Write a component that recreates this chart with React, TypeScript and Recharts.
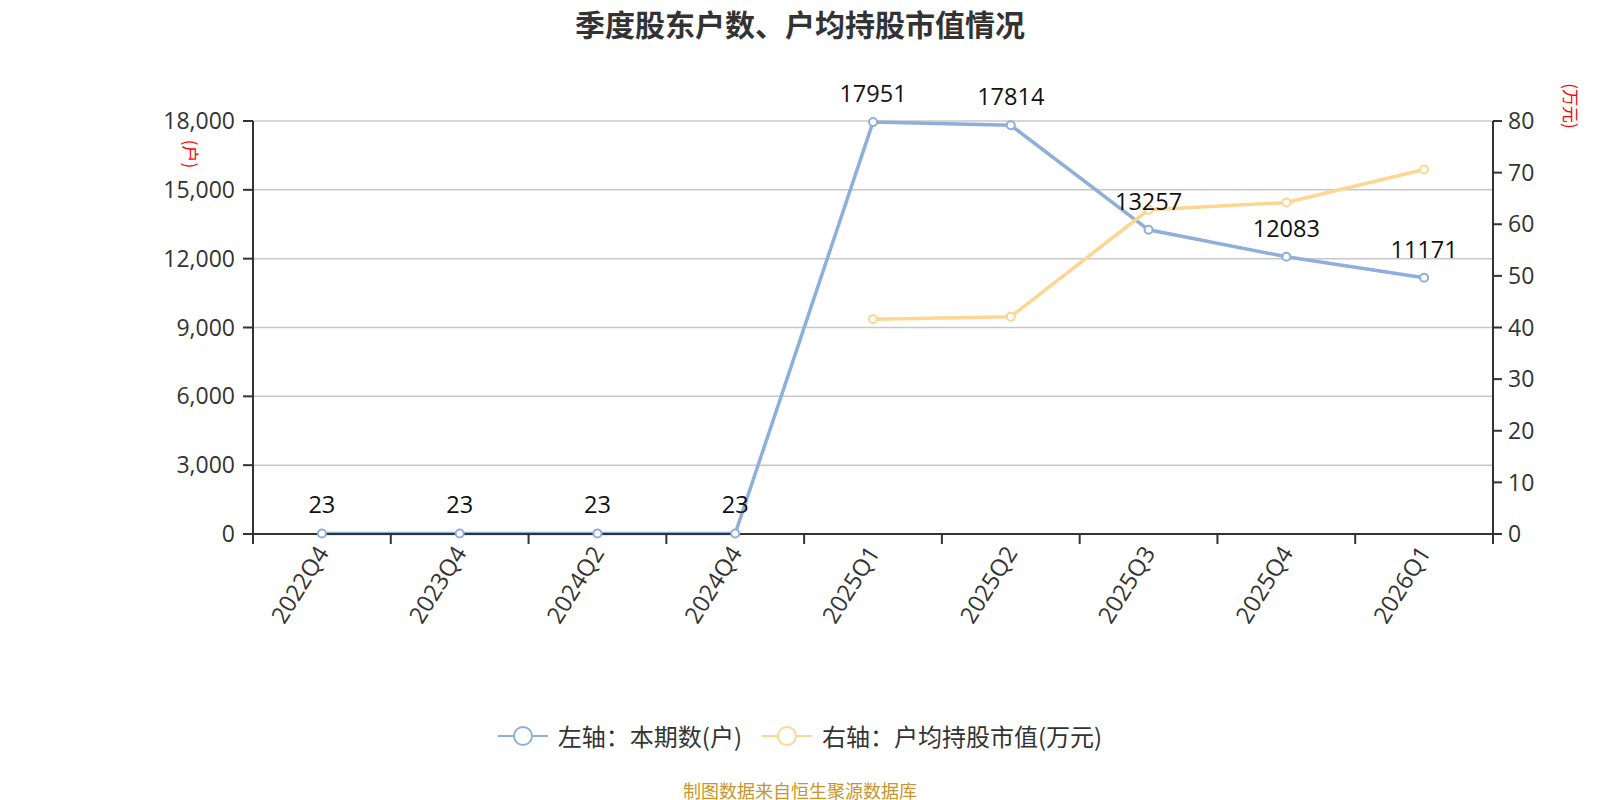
import React from 'react';
import { LineChart, Line, XAxis, YAxis, CartesianGrid, Legend, LabelList } from 'recharts';

const categories = ['2022Q4', '2023Q4', '2024Q2', '2024Q4', '2025Q1', '2025Q2', '2025Q3', '2025Q4', '2026Q1'];
const holders = [23, 23, 23, 23, 17951, 17814, 13257, 12083, 11171];
const avgValue: (number | null)[] = [null, null, null, null, 41.6, 42.1, 62.8, 64.2, 70.6];
const leftTicks = [0, 3000, 6000, 9000, 12000, 15000, 18000];
const rightTicks = [0, 10, 20, 30, 40, 50, 60, 70, 80];

const data = categories.map((c, i) => ({ name: c, holders: holders[i], avg: avgValue[i] }));

const BLUE = '#8eafdc';
const ORANGE = '#fdd692';
const FONT = '"Open Sans", "Noto Sans CJK SC", sans-serif';
const CJK = '"Noto Sans CJK SC", sans-serif';
const AXIS = '#333';
const CHART_W = 1600;
const CHART_H = 800;
const MARGIN = { top: 121, right: 37, left: 183, bottom: 166 };
const YW = 70;
const BAND = (CHART_W - MARGIN.left - MARGIN.right - 2 * YW) / categories.length;

const fmt = (v: number) => v.toLocaleString('en-US');

const XTick = (props: any) => {
  const { x, y, payload, index } = props;
  const half = payload && typeof payload.offset === 'number' && payload.offset > 0 ? payload.offset : BAND / 2;
  const ty = y + 14;
  return (
    <g>
      <line x1={x - half} y1={y} x2={x - half} y2={y + 10} stroke={AXIS} strokeWidth={2} />
      {index === categories.length - 1 && (
        <line x1={x + half} y1={y} x2={x + half} y2={y + 10} stroke={AXIS} strokeWidth={2} />
      )}
      <text
        x={x}
        y={ty}
        transform={`rotate(-58, ${x}, ${ty})`}
        textAnchor="end"
        dominantBaseline="central"
        fontSize={23.5}
        fill="#333"
        fontFamily={FONT}
      >
        {payload.value}
      </text>
    </g>
  );
};

const LeftName = (props: any) => {
  const vb = props.viewBox || {};
  const cx = vb.x + vb.width - 62;
  const cy = vb.y + 33;
  return (
    <text x={cx} y={cy} transform={`rotate(90, ${cx}, ${cy})`} textAnchor="middle" dominantBaseline="central" fontSize={17} fill="#ff0000" fontFamily={CJK}>
      (户)
    </text>
  );
};

const RightName = (props: any) => {
  const vb = props.viewBox || {};
  const cx = vb.x + 78;
  const cy = vb.y - 15;
  return (
    <text x={cx} y={cy} transform={`rotate(90, ${cx}, ${cy})`} textAnchor="middle" dominantBaseline="central" fontSize={17} fill="#ff0000" fontFamily={CJK}>
      (万元)
    </text>
  );
};

const legendItems = [
  { label: '左轴：本期数(户)', color: BLUE },
  { label: '右轴：户均持股市值(万元)', color: ORANGE },
];

const LegendContent = () => (
  <div style={{ display: 'flex', justifyContent: 'center', alignItems: 'center', fontFamily: CJK, fontSize: 24, color: '#333' }}>
    {legendItems.map((it, i) => (
      <div key={i} style={{ display: 'flex', alignItems: 'center', marginLeft: i === 0 ? 0 : 20 }}>
        <svg width={50} height={24} style={{ marginRight: 10 }}>
          <line x1={0} y1={12} x2={50} y2={12} stroke={it.color} strokeWidth={2} />
          <circle cx={25} cy={12} r={9} fill="#fff" stroke={it.color} strokeWidth={2} />
        </svg>
        <span>{it.label}</span>
      </div>
    ))}
  </div>
);

export default function App() {
  return (
    <div style={{ position: 'absolute', left: 0, top: 0, width: CHART_W, height: CHART_H, background: '#fff', fontFamily: CJK }}>
      <div style={{ position: 'absolute', left: 0, top: 3, width: CHART_W, textAlign: 'center', fontSize: 30, fontWeight: 'bold', color: '#333', lineHeight: '40px' }}>
        季度股东户数、户均持股市值情况
      </div>
      <LineChart width={CHART_W} height={CHART_H} data={data} margin={MARGIN}>
        <CartesianGrid vertical={false} stroke="#c8c8c8" strokeWidth={1.5} yAxisId="left" />
        <XAxis
          dataKey="name"
          scale="band"
          height={100}
          interval={0}
          tickLine={false}
          tickSize={0}
          tickMargin={0}
          axisLine={{ stroke: AXIS, strokeWidth: 2 }}
          tick={<XTick />}
        />
        <YAxis
          yAxisId="left"
          width={YW}
          domain={[0, 18000]}
          ticks={leftTicks}
          tickFormatter={fmt}
          tickSize={10}
          tickMargin={8}
          tickLine={{ stroke: AXIS, strokeWidth: 2 }}
          axisLine={{ stroke: AXIS, strokeWidth: 2 }}
          tick={{ fontSize: 23, fill: '#333', fontFamily: FONT }}
          label={<LeftName />}
        />
        <YAxis
          yAxisId="right"
          orientation="right"
          width={YW}
          domain={[0, 80]}
          ticks={rightTicks}
          tickSize={9}
          tickMargin={6}
          tickLine={{ stroke: AXIS, strokeWidth: 2 }}
          axisLine={{ stroke: AXIS, strokeWidth: 2 }}
          tick={{ fontSize: 23, fill: '#333', fontFamily: FONT }}
          label={<RightName />}
        />
        <Legend
          verticalAlign="middle"
          align="center"
          content={<LegendContent />}
          wrapperStyle={{ top: 718, left: 0, width: CHART_W, height: 34 }}
        />
        <Line
          yAxisId="left"
          type="linear"
          dataKey="holders"
          stroke={BLUE}
          strokeWidth={3.5}
          dot={{ r: 4, fill: '#fff', stroke: BLUE, strokeWidth: 2 }}
          activeDot={false}
          isAnimationActive={false}
        >
          <LabelList dataKey="holders" position="top" offset={20} fontSize={23.5} fill="#111" fontFamily={FONT} />
        </Line>
        <Line
          yAxisId="right"
          type="linear"
          dataKey="avg"
          stroke={ORANGE}
          strokeWidth={3.5}
          dot={{ r: 4, fill: '#fff', stroke: ORANGE, strokeWidth: 2 }}
          activeDot={false}
          isAnimationActive={false}
        />
      </LineChart>
      <div style={{ position: 'absolute', left: 0, top: 778, width: CHART_W, textAlign: 'center', fontSize: 18, color: '#c9952b', lineHeight: '24px' }}>
        制图数据来自恒生聚源数据库
      </div>
    </div>
  );
}
